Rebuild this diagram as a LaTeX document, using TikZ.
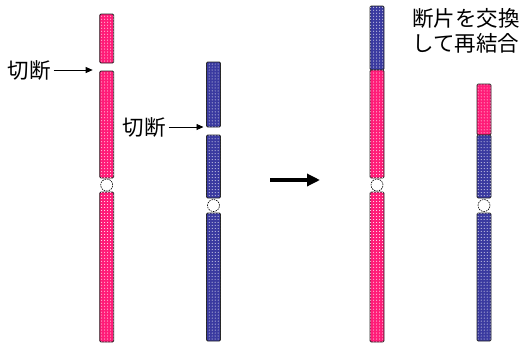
\documentclass[tikz,border=0pt]{standalone}
\usepackage{fontspec}
\newfontfamily\jp{Noto Sans CJK JP}
\usetikzlibrary{patterns,arrows.meta,calc}
\definecolor{chrpink}{RGB}{255,28,120}
\definecolor{chrblue}{RGB}{58,58,160}
\tikzset{
  seg/.style={draw=black!85, line width=0.9bp, rounded corners=1.2bp,
    minimum width=14bp, inner sep=0pt, outer sep=0pt,
    postaction={pattern=dots, pattern color=white}},
  pinkseg/.style={seg, fill=chrpink},
  blueseg/.style={seg, fill=chrblue},
  centro/.style={circle, fill=white, draw=black, line width=0.6bp,
    dash pattern=on 1.6bp off 0.9bp, minimum size=12bp, inner sep=0pt},
  label/.style={font=\jp\fontsize{21.5bp}{25bp}\selectfont, inner sep=2bp},
  cutarrow/.style={line width=0.8bp, -{Triangle[length=7bp,width=6bp]}},
  bigarrow/.style={line width=3.2bp, -{Triangle[length=13bp,width=12bp]}}
}
\begin{document}
\begin{tikzpicture}[x=1bp,y=-1bp]
\useasboundingbox (0,0) rectangle (525,345);

% chromosome A (before)
\node[pinkseg, minimum height=49bp]  (A1) at (106.7,38.5) {};
\node[pinkseg, minimum height=107bp] (A2) at (106.7,124.5) {};
\node[pinkseg, minimum height=150bp] (A3) at (106.7,267) {};
\node[centro] (Ac) at (106.7,185) {};

% chromosome B (before)
\node[blueseg, minimum height=65bp]  (B1) at (213.5,94.5) {};
\node[blueseg, minimum height=63bp]  (B2) at (213.5,166.5) {};
\node[blueseg, minimum height=128bp] (B3) at (213.5,277) {};
\node[centro] (Bc) at (213.5,205.5) {};

% chromosome C (after)
\node[blueseg, minimum height=64bp]  (C1) at (377,38) {};
\node[pinkseg, minimum height=108bp] (C2) at (377,124) {};
\node[pinkseg, minimum height=150bp] (C3) at (377,267) {};
\node[centro] (Cc) at (377,185) {};

% chromosome D (after)
\node[pinkseg, minimum height=51bp]  (D1) at (484,109.5) {};
\node[blueseg, minimum height=63bp]  (D2) at (484,166.5) {};
\node[blueseg, minimum height=128bp] (D3) at (484,277) {};
\node[centro] (Dc) at (484,205.5) {};

% break points
\node[label] (cutA) at (29,70) {切断};
\coordinate (gapA) at (A1.south west |- cutA.east);
\draw[cutarrow, shorten <=1bp, shorten >=7bp] (cutA.east) -- (gapA);

\node[label] (cutB) at (144,127) {切断};
\coordinate (gapB) at (B1.south west |- cutB.east);
\draw[cutarrow, shorten <=1bp, shorten >=3bp] (cutB.east) -- (gapB);

% transition arrow
\coordinate (bigS) at (270,180);
\coordinate (bigE) at (320,180);
\draw[bigarrow] (bigS) -- (bigE);

% result label
\node[label, align=left] (swap) at (466,31) {断片を交換\\して再結合};
\end{tikzpicture}
\end{document}
